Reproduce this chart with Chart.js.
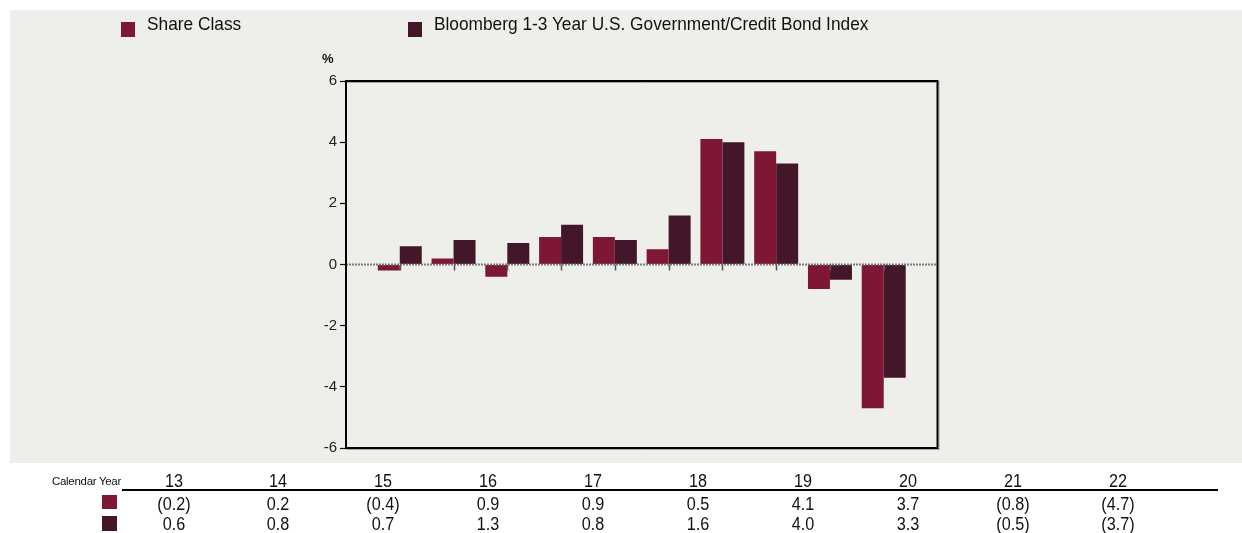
<!DOCTYPE html>
<html><head><meta charset="utf-8">
<script src="https://cdn.jsdelivr.net/npm/chart.js@4.4.0/dist/chart.umd.min.js"></script>
<style>
html,body{margin:0;padding:0;background:#fff;width:1242px;height:533px;overflow:hidden;font-family:"Liberation Sans",Arial,sans-serif;}
#bg{position:absolute;left:10px;top:10px;width:1232px;height:453px;background:#eeeeea;}
canvas{position:absolute;left:0;top:0;}
.t{position:absolute;white-space:nowrap;color:#111;}
.sq{position:absolute;}
</style></head><body>
<div id="bg"></div>
<canvas id="c" width="1242" height="533"></canvas>
<div id="overlay"></div>
<script>
// ---- data ----
const categories = ['13','14','15','16','17','18','19','20','21','22'];
const shareClass = [-0.2, 0.2, -0.4, 0.9, 0.9, 0.5, 4.1, 3.7, -0.8, -4.7];
const benchmark  = [0.6, 0.8, 0.7, 1.3, 0.8, 1.6, 4.0, 3.3, -0.5, -3.7];
const seriesNames = ['Share Class', 'Bloomberg 1-3 Year U.S. Government/Credit Bond Index'];
const yTicks = [-6, -4, -2, 0, 2, 4, 6];
const rowLabel = 'Calendar Year';
const unitLabel = '%';

// ---- styles ----
const seriesColors = ['#7e1733', '#431729'];

const labels = [''].concat(categories, ['']);
const pad = a => [null].concat(a, [null]);

const framePlugin = {
  id: 'frame',
  afterDatasetsDraw(chart) {
    const ctx = chart.ctx;
    const {left, right, top, bottom} = chart.chartArea;
    const y0 = chart.scales.y.getPixelForValue(0);
    ctx.save();
    ctx.strokeStyle = '#7a7a7a'; ctx.lineWidth = 2; ctx.setLineDash([2, 1]);
    ctx.beginPath(); ctx.moveTo(left, y0); ctx.lineTo(right, y0); ctx.stroke();
    ctx.setLineDash([]);
    const xs = chart.scales.x;
    categories.forEach((c, i) => {
      const x = Math.round(xs.getPixelForValue(i + 1)) + 0.5;
      ctx.strokeStyle = '#555'; ctx.lineWidth = 1.5;
      ctx.beginPath(); ctx.moveTo(x, y0); ctx.lineTo(x, y0 + 6); ctx.stroke();
    });
    ctx.strokeStyle = '#a5a5a5'; ctx.lineWidth = 1;
    ctx.beginPath(); ctx.moveTo(left + 1, top + 1.5); ctx.lineTo(right - 1, top + 1.5); ctx.stroke();
    ctx.beginPath(); ctx.moveTo(right + 1.5, top); ctx.lineTo(right + 1.5, bottom + 2); ctx.stroke();
    ctx.beginPath(); ctx.moveTo(left, bottom + 1.5); ctx.lineTo(right + 2, bottom + 1.5); ctx.stroke();
    ctx.strokeStyle = '#000'; ctx.lineWidth = 2;
    ctx.strokeRect(left, top, right - left, bottom - top);
    ctx.restore();
  }
};

new Chart(document.getElementById('c'), {
  type: 'bar',
  data: {
    labels,
    datasets: seriesNames.map((n, k) => ({
      label: n,
      data: pad(k === 0 ? shareClass : benchmark),
      backgroundColor: seriesColors[k],
      borderWidth: 0,
      categoryPercentage: 0.818,
      barPercentage: 1
    }))
  },
  options: {
    responsive: false, animation: false, devicePixelRatio: 1,
    layout: {padding: {left: 300, right: 304.5, top: 81, bottom: 85}},
    plugins: {legend: {display: false}, tooltip: {enabled: false}},
    scales: {
      x: {display: false, offset: false},
      y: {
        min: -6, max: 6,
        afterBuildTicks: s => { s.ticks = yTicks.map(v => ({value: v})); },
        ticks: {color: '#222', font: {family: 'Liberation Sans', size: 15}, padding: 3},
        grid: {drawOnChartArea: false, drawTicks: true, tickLength: 6, color: '#000', tickWidth: 1.2},
        border: {display: true, color: '#000', width: 2},
        afterFit: s => { s.width = 46; }
      }
    }
  },
  plugins: [framePlugin]
});

// ---- HTML text: legend, unit, table ----
const ov = document.getElementById('overlay');
function add(html, css, cls) {
  const d = document.createElement('div');
  d.className = cls || 't';
  d.style.cssText = css;
  d.textContent = html;
  ov.appendChild(d);
  return d;
}
const legSq = [121, 408], legTx = [147, 434];
seriesNames.forEach((n, k) => {
  add('', `left:${legSq[k]}px;top:22px;width:14px;height:15px;background:${seriesColors[k]};`, 'sq');
  add(n, `left:${legTx[k]}px;top:13px;font-size:19px;line-height:22px;transform:scaleX(0.91);transform-origin:0 0;`);
});
add(unitLabel, 'left:322px;top:51px;font-size:13px;line-height:15px;font-weight:bold;');

add(rowLabel, 'left:0px;width:121px;text-align:right;top:474px;font-size:11.5px;line-height:14px;letter-spacing:-0.3px;');
add('', 'left:122px;top:488.5px;width:1096px;height:2px;background:#000;', 'sq');
add('', `left:102px;top:495px;width:15px;height:14px;background:${seriesColors[0]};`, 'sq');
add('', `left:102px;top:516px;width:15px;height:15px;background:${seriesColors[1]};`, 'sq');
const fmt = v => v < 0 ? '(' + Math.abs(v).toFixed(1) + ')' : v.toFixed(1);
categories.forEach((c, i) => {
  const cx = 173.5 + 104.9 * i;
  const base = `left:${cx - 50}px;width:100px;text-align:center;font-size:18px;line-height:20px;transform:scaleX(0.9);`;
  add(c, base + 'top:470.5px;');
  add(fmt(shareClass[i]), base + 'top:494px;');
  add(fmt(benchmark[i]), base + 'top:514px;');
});
</script>
</body></html>
